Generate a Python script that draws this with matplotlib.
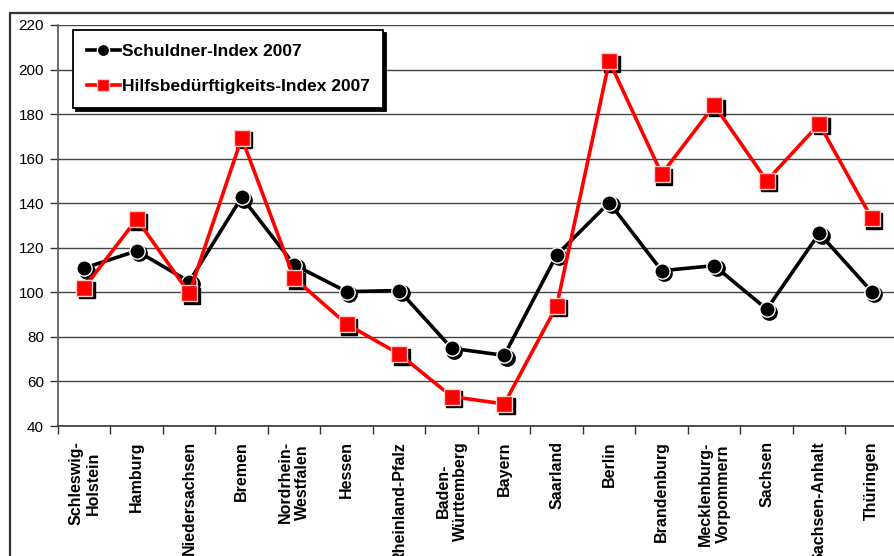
import matplotlib.pyplot as plt
import matplotlib.transforms as mtransforms
from matplotlib.patches import Rectangle

plt.rcParams['font.family'] = ['Liberation Sans', 'DejaVu Sans']

laender = ['Schleswig-\nHolstein', 'Hamburg', 'Niedersachsen', 'Bremen',
           'Nordrhein-\nWestfalen', 'Hessen', 'Rheinland-Pfalz',
           'Baden-\nWürttemberg', 'Bayern', 'Saarland', 'Berlin',
           'Brandenburg', 'Mecklenburg-\nVorpommern', 'Sachsen',
           'Sachsen-Anhalt', 'Thüringen']
schuldner = [110.9, 118.6, 104.8, 142.7, 112.3, 100.3, 100.8, 74.9,
             71.7, 116.8, 140.3, 109.7, 112.0, 92.4, 126.5, 100.3]
hilfe = [102.1, 132.9, 99.6, 169.3, 106.3, 85.7, 72.3, 53.2,
         49.9, 93.9, 203.8, 153.1, 184.0, 150.1, 175.6, 133.2]

fig = plt.figure(figsize=(8.95, 5.56), dpi=100)
# chart area frame
fig.patches.append(Rectangle((10 / 895, -0.1), 1.0, 1 - 13 / 556 + 0.1,
                             transform=fig.transFigure, fill=False,
                             edgecolor='#333333', linewidth=1.6))
ax = fig.add_axes([58 / 895, 1 - 426 / 556, 840 / 895, 401 / 556])

x = list(range(len(laender)))
shadow = ax.transData + mtransforms.ScaledTranslation(2.5 / 100, -2.5 / 100, fig.dpi_scale_trans)

ax.plot(x, schuldner, 'o', ms=11, color='black', transform=shadow, zorder=3)
ax.plot(x, schuldner, '-o', color='black', lw=2.6, ms=11, mfc='black',
        mec='white', mew=1.0, zorder=4, label='Schuldner-Index 2007')
ax.plot(x, hilfe, 's', ms=11, color='black', transform=shadow, zorder=5)
ax.plot(x, hilfe, '-s', color='#ff0000', lw=2.6, ms=11, mfc='#ff0000',
        mec='#ffcccc', mew=1.0, zorder=6, label='Hilfsbedürftigkeits-Index 2007')

ax.set_xlim(-0.5, len(laender) - 0.5)
ax.set_ylim(40, 220)
ax.set_yticks(range(40, 221, 20))
ax.yaxis.grid(True, color='#444444', linewidth=1.0)
ax.set_axisbelow(True)

ax.set_xticks(x)
ax.set_xticklabels(laender, rotation=90, fontsize=11.5, fontweight='bold',
                   va='top', ha='center', multialignment='center')
ax.set_xticks([i - 0.5 for i in range(len(laender) + 1)], minor=True)
ax.tick_params(axis='x', which='major', length=0, pad=11)
ax.tick_params(axis='x', which='minor', length=6, width=1, color='#333333')
ax.tick_params(axis='y', length=6, width=1, color='#333333', labelsize=11, pad=4)

for s in ['top', 'right']:
    ax.spines[s].set_visible(False)
ax.spines['left'].set_color('#555555')
ax.spines['left'].set_linewidth(1.2)
ax.spines['bottom'].set_color('#333333')
ax.spines['bottom'].set_linewidth(1.2)

leg = ax.legend(loc='upper left', bbox_to_anchor=(15 / 840, 1 - 5 / 401),
                borderaxespad=0, fancybox=False, shadow={'color': 'black', 'alpha': 1},
                prop={'weight': 'bold', 'size': 12.5}, handlelength=1.9,
                handletextpad=0.1, labelspacing=1.15, borderpad=0.8,
                markerscale=0.8)
leg.get_frame().set_edgecolor('black')
leg.get_frame().set_linewidth(1.3)

fig.savefig('out.png', dpi=100)
